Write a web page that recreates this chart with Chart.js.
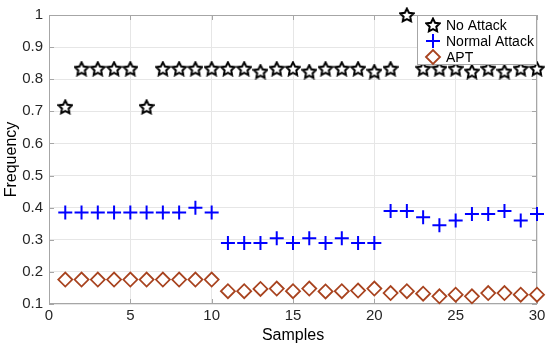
<!DOCTYPE html>
<html>
<head>
<meta charset="utf-8">
<script src="https://cdn.jsdelivr.net/npm/chart.js@4/dist/chart.umd.min.js"></script>
<style>
  html, body { margin: 0; padding: 0; background: #fff; }
  #wrap { width: 550px; height: 349px; }
</style>
</head>
<body>
<div id="wrap"><canvas id="freqChart"></canvas></div>
<script>
// data
const samples = [1, 2, 3, 4, 5, 6, 7, 8, 9, 10, 11, 12, 13, 14, 15, 16, 17, 18, 19, 20, 21, 22, 23, 24, 25, 26, 27, 28, 29, 30];
const noAttack = [0.714, 0.833, 0.833, 0.833, 0.833, 0.714, 0.833, 0.833, 0.833, 0.833,
                  0.833, 0.833, 0.824, 0.833, 0.833, 0.824, 0.833, 0.833, 0.833, 0.824,
                  0.833, 1.0, 0.833, 0.833, 0.833, 0.824, 0.833, 0.824, 0.833, 0.833];
const normalAttack = [0.385, 0.385, 0.385, 0.385, 0.385, 0.385, 0.385, 0.385, 0.4, 0.385,
                      0.29, 0.29, 0.29, 0.305, 0.29, 0.305, 0.29, 0.305, 0.29, 0.29,
                      0.39, 0.39, 0.37, 0.345, 0.36, 0.38, 0.38, 0.39, 0.36, 0.38];
const apt = [0.176, 0.176, 0.176, 0.176, 0.176, 0.176, 0.176, 0.176, 0.176, 0.176,
             0.14, 0.14, 0.147, 0.148, 0.14, 0.148, 0.139, 0.14, 0.142, 0.148,
             0.134, 0.14, 0.132, 0.124, 0.129, 0.124, 0.134, 0.134, 0.129, 0.129];
const seriesNames = ['No Attack', 'Normal Attack', 'APT'];
const xTicks = [0, 5, 10, 15, 20, 25, 30];
const yTicks = [0.1, 0.2, 0.3, 0.4, 0.5, 0.6, 0.7, 0.8, 0.9, 1];

const FONT = '"Liberation Sans", Arial, sans-serif';
const AXIS_GREY = '#a6a6a6';
const BLUE = '#0000ff';
const BROWN = '#a8431f';

// five pointed star marker (Chart.js "star" is an asterisk)
function makeStar(size) {
    const c = document.createElement('canvas');
    c.width = size; c.height = size;
    const g = c.getContext('2d');
    const cx = size / 2, cy = size / 2 + 0.6;
    const ro = size / 2 - 1, ri = ro * 0.5;
    g.beginPath();
    for (let i = 0; i < 10; i++) {
        const r = i % 2 ? ri : ro;
        const a = -Math.PI / 2 + i * Math.PI / 5;
        const px = cx + r * Math.cos(a), py = cy + r * Math.sin(a);
        if (i === 0) g.moveTo(px, py); else g.lineTo(px, py);
    }
    g.closePath();
    g.fillStyle = '#fff';
    g.fill();
    g.lineWidth = 2;
    g.lineJoin = 'miter';
    g.strokeStyle = '#000';
    g.stroke();
    return c;
}
const starImg = makeStar(16);

function toPoints(vals) {
    return vals.map((v, i) => ({ x: samples[i], y: v }));
}

// axes box with inward ticks, drawn before the markers
const boxPlugin = {
    id: 'box',
    beforeDatasetsDraw(chart) {
        const { ctx, chartArea: a, scales } = chart;
        ctx.save();
        ctx.strokeStyle = AXIS_GREY;
        ctx.lineWidth = 1;
        ctx.strokeRect(a.left + 0.5, a.top + 0.5, a.right - a.left - 1, a.bottom - a.top - 1);
        ctx.beginPath();
        xTicks.forEach(t => {
            const px = Math.round(scales.x.getPixelForValue(t)) + 0.5;
            ctx.moveTo(px, a.bottom); ctx.lineTo(px, a.bottom - 5);
            ctx.moveTo(px, a.top); ctx.lineTo(px, a.top + 5);
        });
        yTicks.forEach(t => {
            const py = Math.round(scales.y.getPixelForValue(t)) + 0.5;
            ctx.moveTo(a.left, py); ctx.lineTo(a.left + 5, py);
            ctx.moveTo(a.right, py); ctx.lineTo(a.right - 5, py);
        });
        ctx.stroke();
        ctx.restore();
    }
};

// MATLAB style legend box in the top right corner
const legendPlugin = {
    id: 'boxLegend',
    afterDraw(chart) {
        const { ctx, chartArea: a } = chart;
        const w = 120, h = 50;
        const x0 = a.right - w, y0 = a.top;
        ctx.save();
        ctx.fillStyle = '#fff';
        ctx.fillRect(x0, y0, w, h);
        ctx.strokeStyle = AXIS_GREY;
        ctx.lineWidth = 1;
        ctx.strokeRect(x0 + 0.5, y0 + 0.5, w - 1, h - 1);
        const mx = x0 + 16, tx = x0 + 29;
        const rows = [y0 + 10, y0 + 26, y0 + 42];
        // star
        ctx.drawImage(starImg, Math.round(mx - starImg.width / 2), Math.round(rows[0] - starImg.height / 2));
        // plus
        ctx.strokeStyle = BLUE;
        ctx.lineWidth = 2;
        ctx.beginPath();
        ctx.moveTo(mx - 7, rows[1]); ctx.lineTo(mx + 7, rows[1]);
        ctx.moveTo(mx, rows[1] - 7); ctx.lineTo(mx, rows[1] + 7);
        ctx.stroke();
        // diamond
        ctx.strokeStyle = BROWN;
        ctx.lineWidth = 1.8;
        ctx.beginPath();
        ctx.moveTo(mx - 7, rows[2]); ctx.lineTo(mx, rows[2] - 7);
        ctx.lineTo(mx + 7, rows[2]); ctx.lineTo(mx, rows[2] + 7);
        ctx.closePath();
        ctx.stroke();
        ctx.fillStyle = '#000';
        ctx.font = '14px ' + FONT;
        ctx.textBaseline = 'middle';
        seriesNames.forEach((n, i) => ctx.fillText(n, tx, rows[i] + 1));
        ctx.restore();
    }
};

new Chart(document.getElementById('freqChart'), {
    type: 'scatter',
    data: {
        datasets: [{
            label: seriesNames[0],
            data: toPoints(noAttack),
            pointStyle: starImg,
            pointRadius: 8,
            clip: false
        }, {
            label: seriesNames[1],
            data: toPoints(normalAttack),
            pointStyle: 'cross',
            pointRadius: 7,
            borderColor: BLUE,
            backgroundColor: BLUE,
            borderWidth: 2,
            clip: false
        }, {
            label: seriesNames[2],
            data: toPoints(apt),
            pointStyle: 'rectRot',
            pointRadius: 7,
            borderColor: BROWN,
            backgroundColor: '#fff',
            borderWidth: 1.8,
            clip: false
        }]
    },
    options: {
        responsive: true,
        maintainAspectRatio: false,
        animation: false,
        layout: { padding: { top: 9, right: 13, left: 0, bottom: 0 } },
        plugins: {
            legend: { display: false },
            tooltip: { enabled: false }
        },
        scales: {
            x: {
                type: 'linear',
                min: 0, max: 30,
                afterBuildTicks: s => { s.ticks = xTicks.map(v => ({ value: v })); },
                afterFit: s => { s.height = 45; },
                grid: { color: '#e6e6e6', drawTicks: false },
                border: { display: false },
                ticks: { color: '#262626', padding: 3, font: { family: FONT, size: 15 }, maxRotation: 0 },
                title: { display: true, text: 'Samples', color: '#000', padding: { top: 2 }, font: { family: FONT, size: 16 } }
            },
            y: {
                min: 0.1, max: 1,
                afterBuildTicks: s => { s.ticks = yTicks.map(v => ({ value: v })); },
                afterFit: s => { s.width = 49; },
                grid: { color: '#e6e6e6', drawTicks: false },
                border: { display: false },
                ticks: {
                    color: '#262626', padding: 6, font: { family: FONT, size: 15 },
                    callback: v => String(+v.toFixed(1))
                },
                title: { display: true, text: 'Frequency', color: '#000', padding: { top: 2, bottom: 0 }, font: { family: FONT, size: 16 } }
            }
        }
    },
    plugins: [boxPlugin, legendPlugin]
});
</script>
</body>
</html>
